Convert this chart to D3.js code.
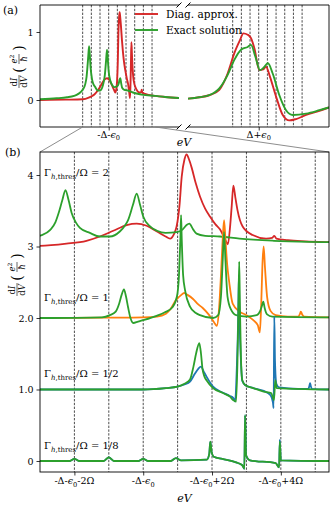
<!DOCTYPE html>
<html>
<head>
<meta charset="utf-8">
<script src="https://cdn.jsdelivr.net/npm/d3@7"></script>
<style>
  body { margin: 0; background: #fff; }
  svg { display: block; }
  text { font-family: "DejaVu Serif", serif; fill: #000; }
</style>
</head>
<body>
<div id="chart"></div>
<script>
// ---- data (x in units of Omega measured from the resonance, y = dI/dV in e^2/h) ----
// panel (a) left part and the Gamma/Omega = 2 curves of panel (b)
const diag2 = [[-7.95,0],[-5,0.005],[-3,0.01],[-2.23,0.04],[-1.65,0.08],[-1.26,0.14],[-0.87,0.22],[-0.48,0.3],[-0.19,0.32],[0.1,0.29],[0.4,0.21],[0.65,0.14],[0.78,0.11],[0.9,0.18],[0.97,0.28],[1.05,0.55],[1.12,0.98],[1.2,1.22],[1.26,1.29],[1.33,1.22],[1.41,1.1],[1.53,0.88],[1.65,0.7],[1.8,0.53],[1.94,0.42],[2.1,0.31],[2.23,0.24],[2.38,0.1],[2.46,0.03],[2.52,0.25],[2.57,0.55],[2.62,0.85],[2.68,0.68],[2.74,0.51],[2.89,0.28],[3.18,0.16],[3.57,0.11],[3.75,0.12],[3.81,0.15],[3.87,0.11],[4.2,0.09],[5.4,0.06],[6.5,0.045],[8.11,0.03]];
const exact2 = [[-7.95,0.01],[-6,0.025],[-4.8,0.04],[-4,0.06],[-3.5,0.09],[-3,0.15],[-2.71,0.23],[-2.55,0.34],[-2.47,0.45],[-2.35,0.65],[-2.26,0.79],[-2.17,0.65],[-2.08,0.47],[-1.95,0.33],[-1.84,0.26],[-1.55,0.19],[-1.26,0.14],[-0.97,0.14],[-0.68,0.21],[-0.52,0.3],[-0.44,0.37],[-0.3,0.58],[-0.19,0.74],[-0.09,0.58],[0,0.42],[0.2,0.28],[0.4,0.22],[0.65,0.19],[0.97,0.2],[1.15,0.24],[1.26,0.3],[1.34,0.32],[1.45,0.24],[1.55,0.18],[1.8,0.15],[2.23,0.14],[2.8,0.11],[3.8,0.08],[5.4,0.06],[6.5,0.045],[8.11,0.03]];
// panel (a) right part, around Delta+eps0
const diagRight = [[-8.2,0.02],[-6.85,0.04],[-5.7,0.07],[-4.54,0.15],[-3.58,0.39],[-2.81,0.69],[-2.16,0.88],[-1.77,0.98],[-1.27,0.96],[-0.89,0.91],[-0.5,0.76],[0.07,0.44],[0.53,0.45],[0.84,0.49],[1.3,0.34],[2.0,0.05],[2.77,-0.22],[3.53,-0.3],[4.3,-0.28],[5.46,-0.22],[7.0,-0.16],[8.1,-0.11]];
const exactRight = [[-8.2,0.02],[-6.85,0.04],[-5.7,0.07],[-4.54,0.17],[-3.58,0.37],[-2.81,0.59],[-2.04,0.74],[-1.27,0.78],[-0.89,0.81],[-0.39,0.64],[0.15,0.44],[0.53,0.47],[1.07,0.54],[1.61,0.39],[2.38,0.07],[3.15,-0.15],[3.92,-0.22],[5.46,-0.2],[7.0,-0.15],[8.1,-0.11]];
// panel (b), Gamma/Omega = 1
const diag1 = [[-3,0],[-1,0.005],[0,0.01],[0.4,0.02],[0.66,0.06],[0.8,0.13],[0.95,0.25],[1.1,0.32],[1.19,0.35],[1.3,0.32],[1.44,0.27],[1.6,0.19],[1.73,0.14],[1.9,0.05],[2.02,-0.03],[2.1,-0.09],[2.14,-0.11],[2.2,0.1],[2.26,0.6],[2.31,1.1],[2.35,1.37],[2.39,1.1],[2.44,0.75],[2.5,0.5],[2.6,0.2],[2.8,0.09],[3.0,0.04],[3.2,-0.03],[3.33,-0.1],[3.39,-0.2],[3.43,0.2],[3.47,0.8],[3.5,1.0],[3.54,0.7],[3.6,0.3],[3.7,0.1],[3.85,0.04],[4.2,0.02],[4.5,0.02],[4.55,0.05],[4.58,0.09],[4.62,0.05],[4.68,0.02],[5.4,0.01]];
const exact1 = [[-3,0],[-1.2,0.01],[-0.97,0.04],[-0.8,0.09],[-0.7,0.2],[-0.63,0.32],[-0.56,0.4],[-0.5,0.3],[-0.44,0.15],[-0.37,0],[-0.29,-0.07],[-0.15,-0.05],[0,-0.03],[0.39,0.03],[0.63,0.08],[0.85,0.15],[0.98,0.3],[1.04,0.6],[1.08,1.1],[1.1,1.44],[1.12,1.1],[1.16,0.6],[1.22,0.38],[1.36,0.16],[1.53,0.07],[1.65,0.04],[2.03,0],[2.18,0.04],[2.26,0.3],[2.31,0.8],[2.35,1.2],[2.39,0.8],[2.45,0.3],[2.55,0.12],[2.7,0.04],[3.0,0.02],[3.3,0.04],[3.4,0.1],[3.45,0.17],[3.49,0.23],[3.53,0.14],[3.6,0.05],[3.75,0.02],[5.4,0.01]];
// panel (b), Gamma/Omega = 1/2
const diagHalf = [[-3,0],[0,0],[0.66,0.02],[1.0,0.04],[1.2,0.07],[1.36,0.11],[1.5,0.22],[1.6,0.29],[1.68,0.32],[1.76,0.25],[1.84,0.18],[2.03,0.04],[2.32,-0.045],[2.52,-0.09],[2.62,-0.12],[2.67,-0.17],[2.72,0.3],[2.76,1.0],[2.78,1.6],[2.8,1.0],[2.84,0.4],[2.88,0.12],[2.97,0.06],[3.2,0.02],[3.5,-0.02],[3.7,-0.08],[3.77,-0.18],[3.79,-0.26],[3.81,1.02],[3.83,0.4],[3.87,0.08],[3.95,0.03],[4.5,0.01],[4.8,0.01],[4.83,0.05],[4.85,0.09],[4.87,0.05],[4.9,0.01],[5.4,0]];
const exactHalf = [[-3,0],[0,0],[0.66,0.02],[1.0,0.04],[1.2,0.08],[1.36,0.14],[1.46,0.32],[1.54,0.51],[1.63,0.65],[1.68,0.5],[1.72,0.3],[1.78,0.18],[1.84,0.13],[2.03,0.02],[2.32,-0.05],[2.52,-0.1],[2.62,-0.15],[2.7,-0.17],[2.74,0.4],[2.77,1.2],[2.79,1.79],[2.81,1.2],[2.84,0.45],[2.88,0.13],[2.97,0.06],[3.2,0.02],[3.5,-0.03],[3.72,-0.05],[3.8,-0.15],[3.84,0.13],[3.88,0.02],[5.4,0]];
// panel (b), Gamma/Omega = 1/8
const diagEighth = [[-3,0],[-2.15,0],[-2.0,0.03],[-1.85,0],[-1.15,0],[-1.0,0.05],[-0.85,0],[-0.15,0],[0,0.03],[0.15,0],[0.8,0],[0.95,0.04],[1.1,0.01],[1.85,0.02],[1.92,0.1],[1.95,0.27],[1.99,0.12],[2.05,0.06],[2.3,0.03],[2.7,-0.02],[2.88,-0.06],[2.94,-0.11],[2.96,0.64],[2.99,0.08],[3.1,0.01],[3.85,-0.03],[3.95,-0.09],[3.97,0.3],[4.0,0.01],[5.4,0]];
const exactEighth = [[-3,0],[-2.15,0],[-2.0,0.03],[-1.85,0],[-1.15,0],[-1.0,0.05],[-0.85,0],[-0.15,0],[0,0.03],[0.15,0],[0.8,0],[0.95,0.04],[1.1,0.01],[1.85,0.02],[1.92,0.1],[1.95,0.27],[1.99,0.12],[2.05,0.06],[2.3,0.03],[2.7,-0.02],[2.88,-0.06],[2.94,-0.11],[2.96,0.64],[2.99,0.08],[3.1,0.01],[3.85,-0.03],[3.95,-0.09],[3.97,0.27],[4.0,0.01],[5.4,0]];

const offsets = [3, 2, 1, 0];
const gammaValues = ["2", "1", "1/2", "1/8"];
const dashA = [-3, -2, -1, 0, 1, 2, 3, 4, 5];
const dashB = [-2, -1, 0, 1, 2, 3, 4, 5];
const yTicksA = [0, 1];
const yTicksB = [0, 1, 2, 3, 4];
const yTickLabelsB = ["0", "1.0", "2.0", "3", "4"];
const xTicksB = [-2, 0, 2, 4];
const xTickSuffixB = ["-2Ω", "", "+2Ω", "+4Ω"];
const legendNames = ["Diag. approx.", "Exact solution"];

// ---- layout ----
const red = "#d62728", green = "#2ca02c", orange = "#ff7f0e", blue = "#1f77b4";
const svg = d3.select("#chart").append("svg").attr("width", 332).attr("height", 508);

const xAL = d3.scaleLinear().domain([-7.92, 8.11]).range([40, 179]);
const xAR = d3.scaleLinear().domain([-8.15, 8.1]).range([188, 329]);
const yA = d3.scaleLinear().domain([-0.397, 1.397]).range([127, 5]);
const xB = d3.scaleLinear().domain([-3, 5.4]).range([40, 329]);
const yB = d3.scaleLinear().domain([-0.154, 4.322]).range([472, 152]);

function richText(parent, x, y, parts, size, anchor) {
  const t = parent.append("text").attr("x", x).attr("y", y)
    .attr("font-size", size).attr("text-anchor", anchor || "start");
  let shift = 0;
  parts.forEach(p => {
    const target = p.sub ? size * 0.3 : p.sup ? -size * 0.4 : 0;
    const s = t.append("tspan").text(p.t).attr("dy", target - shift);
    if (p.sub || p.sup) s.attr("font-size", size * 0.7);
    if (p.it) s.attr("font-style", "italic");
    shift = target;
  });
  return t;
}

function yLabel(cx, cy) {
  const g = svg.append("g").attr("transform", `translate(${cx},${cy}) rotate(-90)`);
  const fs = 8.5;
  richText(g, -15, -2, [{t: "d"}, {t: "I", it: true}], fs, "middle");
  g.append("line").attr("x1", -21).attr("x2", -8).attr("y1", 0).attr("y2", 0).attr("stroke", "#000").attr("stroke-width", 0.6);
  richText(g, -15, 8, [{t: "d"}, {t: "V", it: true}], fs, "middle");
  g.append("text").attr("x", -3).attr("y", 4.5).attr("font-size", 14).attr("text-anchor", "middle").text("(");
  richText(g, 8, -2, [{t: "e", it: true}, {t: "2", sup: true}], fs, "middle");
  g.append("line").attr("x1", 3).attr("x2", 13).attr("y1", 0).attr("y2", 0).attr("stroke", "#000").attr("stroke-width", 0.6);
  richText(g, 8, 8, [{t: "ħ", it: true}], fs, "middle");
  g.append("text").attr("x", 19).attr("y", 4.5).attr("font-size", 14).attr("text-anchor", "middle").text(")");
}

function hline(x1, x2, y, w) {
  svg.append("line").attr("x1", x1).attr("x2", x2).attr("y1", y).attr("y2", y).attr("stroke", "#000").attr("stroke-width", w || 0.9);
}
function vline(x, y1, y2, w) {
  svg.append("line").attr("x1", x).attr("x2", x).attr("y1", y1).attr("y2", y2).attr("stroke", "#000").attr("stroke-width", w || 0.9);
}

const defs = svg.append("defs");
function clip(id, x0, x1, y0, y1) {
  defs.append("clipPath").attr("id", id).append("rect").attr("x", x0).attr("y", y0).attr("width", x1 - x0).attr("height", y1 - y0);
}
clip("clipAL", 40, 179, 5, 127);
clip("clipAR", 188, 329, 5, 127);
clip("clipB", 40, 329, 152, 472);

function curve(x, y, off) {
  return d3.line().x(d => x(d[0])).y(d => y(d[1] + off)).curve(d3.curveMonotoneX);
}
function drawSeries(gr, data, x, y, off, color, w) {
  gr.append("path").datum(data).attr("fill", "none").attr("stroke", color)
    .attr("stroke-width", w).attr("stroke-linejoin", "round").attr("d", curve(x, y, off));
}
function dashes(xs, x, y0, y1) {
  xs.forEach(u => {
    svg.append("line").attr("x1", x(u)).attr("x2", x(u)).attr("y1", y0).attr("y2", y1)
      .attr("stroke", "#000").attr("stroke-width", 0.7).attr("stroke-dasharray", "2.4,1.4");
  });
}

// ---- panel (a) ----
dashes(dashA, xAL, 5, 127);
dashes(dashA, xAR, 5, 127);

const gAL = svg.append("g").attr("clip-path", "url(#clipAL)");
drawSeries(gAL, diag2, xAL, yA, 0, red, 1.9);
drawSeries(gAL, exact2, xAL, yA, 0, green, 1.9);
const gAR = svg.append("g").attr("clip-path", "url(#clipAR)");
drawSeries(gAR, diagRight, xAR, yA, 0, red, 1.9);
drawSeries(gAR, exactRight, xAR, yA, 0, green, 1.9);

hline(40, 179, 5); hline(40, 179, 127);
hline(188, 329, 5); hline(188, 329, 127);
vline(40, 5, 127); vline(329, 5, 127);
[179, 188].forEach(x => [5, 127].forEach(y => {
  svg.append("line").attr("x1", x - 2.5).attr("y1", y + 2.5).attr("x2", x + 2.5).attr("y2", y - 2.5)
    .attr("stroke", "#000").attr("stroke-width", 1);
}));

const axAY = svg.append("g").attr("transform", "translate(40,0)")
  .call(d3.axisLeft(yA).tickValues(yTicksA).tickSize(3.5).tickPadding(3).tickFormat(d3.format("d")));
const axAL = svg.append("g").attr("transform", "translate(0,127)")
  .call(d3.axisBottom(xAL).tickValues([0]).tickSize(3.5).tickFormat(""));
const axAR = svg.append("g").attr("transform", "translate(0,127)")
  .call(d3.axisBottom(xAR).tickValues([0]).tickSize(3.5).tickFormat(""));
[axAY, axAL, axAR].forEach(a => {
  a.select(".domain").remove();
  a.attr("font-family", null).attr("font-size", 9.5);
  a.selectAll(".tick line").attr("stroke-width", 0.8);
});
richText(svg, xAL(0), 137.5, [{t: "-Δ-"}, {t: "ϵ", it: true}, {t: "0", sub: true}], 9.5, "middle");
richText(svg, xAR(0), 137.5, [{t: "Δ+"}, {t: "ϵ", it: true}, {t: "0", sub: true}], 9.5, "middle");
svg.append("text").attr("x", 184).attr("y", 146).attr("font-size", 11).attr("font-style", "italic")
  .attr("text-anchor", "middle").text("eV");
yLabel(19, 67);
svg.append("text").attr("x", 3).attr("y", 14).attr("font-size", 11).text("(a)");

// legend
[[red, 14], [green, 30]].forEach((c, i) => {
  svg.append("line").attr("x1", 135).attr("x2", 158).attr("y1", c[1]).attr("y2", c[1])
    .attr("stroke", c[0]).attr("stroke-width", 1.9);
  svg.append("text").attr("x", 166).attr("y", c[1] + 4).attr("font-size", 10.5).text(legendNames[i]);
});

// zoom connectors
svg.append("line").attr("x1", xAL(xB.domain()[0])).attr("y1", 127).attr("x2", 40).attr("y2", 152)
  .attr("stroke", "#808080").attr("stroke-width", 0.9);
svg.append("line").attr("x1", xAL(xB.domain()[1])).attr("y1", 127).attr("x2", 329).attr("y2", 152)
  .attr("stroke", "#808080").attr("stroke-width", 0.9);

// ---- panel (b) ----
dashes(dashB, xB, 152, 472);
const gB = svg.append("g").attr("clip-path", "url(#clipB)");
const pairs = [[diag2, exact2, red], [diag1, exact1, orange], [diagHalf, exactHalf, blue], [diagEighth, exactEighth, blue]];
pairs.forEach((p, i) => {
  drawSeries(gB, p[0], xB, yB, offsets[i], p[2], 1.8);
  drawSeries(gB, p[1], xB, yB, offsets[i], green, 1.8);
});
svg.append("rect").attr("x", 40).attr("y", 152).attr("width", 289).attr("height", 320)
  .attr("fill", "none").attr("stroke", "#000").attr("stroke-width", 0.9);

const axBY = svg.append("g").attr("transform", "translate(40,0)")
  .call(d3.axisLeft(yB).tickValues(yTicksB).tickSize(3.5).tickPadding(3).tickFormat((d, i) => yTickLabelsB[i]));
const axBX = svg.append("g").attr("transform", "translate(0,472)")
  .call(d3.axisBottom(xB).tickValues(xTicksB).tickSize(3.5).tickFormat(""));
[axBY, axBX].forEach(a => {
  a.select(".domain").remove();
  a.attr("font-family", null).attr("font-size", 9.5);
  a.selectAll(".tick line").attr("stroke-width", 0.8);
});
xTicksB.forEach((u, i) => {
  richText(svg, xB(u), 484, [{t: "-Δ-"}, {t: "ϵ", it: true}, {t: "0", sub: true}, {t: xTickSuffixB[i]}], 9.5, "middle");
});
svg.append("text").attr("x", 184.5).attr("y", 502).attr("font-size", 11).attr("font-style", "italic")
  .attr("text-anchor", "middle").text("eV");
yLabel(17, 275);
svg.append("text").attr("x", 5).attr("y", 156).attr("font-size", 11).text("(b)");

const labelY = [3.98, 2.24, 1.17, 0.17];
gammaValues.forEach((g, i) => {
  richText(svg, 44, yB(labelY[i]), [{t: "Γ"}, {t: "h", sub: true, it: true}, {t: ",thres", sub: true}, {t: "/Ω = " + g}], 10, "start");
});
</script>
</body>
</html>
